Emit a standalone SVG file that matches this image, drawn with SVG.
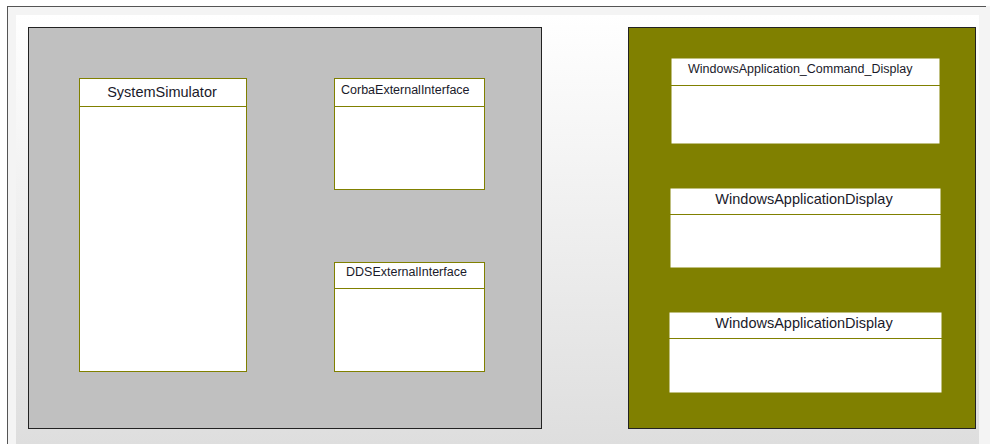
<svg xmlns="http://www.w3.org/2000/svg" width="990" height="444" viewBox="0 0 990 444">
  <defs>
    <linearGradient id="bg" x1="0" y1="0" x2="0" y2="1">
      <stop offset="0" stop-color="#ffffff"/>
      <stop offset="1" stop-color="#dedede"/>
    </linearGradient>
  </defs>
  <style>
    .panel { stroke: #222; stroke-width: 1; }
    .cls { fill: #ffffff; stroke: #808000; stroke-width: 1; }
    .div { stroke: #808000; stroke-width: 1; fill: none; }
    .lbl { font-family: "Liberation Sans", Arial, sans-serif; font-size: 12.5px; fill: #1a1a2a; }
    .lblc { font-family: "Liberation Sans", Arial, sans-serif; font-size: 14.5px; fill: #1a1a2a; text-anchor: middle; }
  </style>

  <!-- canvas -->
  <rect x="0" y="0" width="990" height="444" fill="#ffffff"/>
  <rect x="8" y="6" width="982" height="438" fill="#f4f4f4"/>
  <rect x="16" y="15" width="963" height="429" fill="url(#bg)"/>
  <line x1="7" y1="6.5" x2="986" y2="6.5" stroke="#555" stroke-width="1"/>
  <line x1="7.5" y1="6" x2="7.5" y2="444" stroke="#555" stroke-width="1"/>

  <!-- left package -->
  <g id="simulatorPackage">
    <rect class="panel" x="28.5" y="27.5" width="513" height="401" fill="#c0c0c0"/>
  </g>

  <g id="SystemSimulator">
    <rect class="cls" x="79.5" y="78.5" width="167" height="293"/>
    <line class="div" x1="79.5" y1="106.5" x2="246.5" y2="106.5"/>
    <text class="lblc" x="162" y="97">SystemSimulator</text>
  </g>

  <g id="CorbaExternalInterface">
    <rect class="cls" x="334.5" y="78.5" width="150" height="111"/>
    <line class="div" x1="334.5" y1="106.5" x2="484.5" y2="106.5"/>
    <text class="lbl" x="341" y="94">CorbaExternalInterface</text>
  </g>

  <g id="DDSExternalInterface">
    <rect class="cls" x="334.5" y="262.5" width="150" height="109"/>
    <line class="div" x1="334.5" y1="288.5" x2="484.5" y2="288.5"/>
    <text class="lbl" x="346" y="276">DDSExternalInterface</text>
  </g>

  <!-- right package -->
  <g id="displayPackage">
    <rect class="panel" x="628.5" y="27.5" width="347" height="401" fill="#808000"/>
  </g>

  <g id="WindowsApplication_Command_Display">
    <rect class="cls" x="671" y="58" width="269" height="86" stroke="none"/>
    <line class="div" x1="671" y1="85.5" x2="940" y2="85.5"/>
    <text class="lbl" x="688" y="73">WindowsApplication_Command_Display</text>
  </g>

  <g id="WindowsApplicationDisplay1">
    <rect class="cls" x="670" y="188" width="271" height="80" stroke="none"/>
    <line class="div" x1="670" y1="214.5" x2="941" y2="214.5"/>
    <text class="lblc" x="804" y="204">WindowsApplicationDisplay</text>
  </g>

  <g id="WindowsApplicationDisplay2">
    <rect class="cls" x="669" y="312" width="273" height="81" stroke="none"/>
    <line class="div" x1="669" y1="338.5" x2="942" y2="338.5"/>
    <text class="lblc" x="804" y="328">WindowsApplicationDisplay</text>
  </g>

  <g id="connectors"/>
</svg>
